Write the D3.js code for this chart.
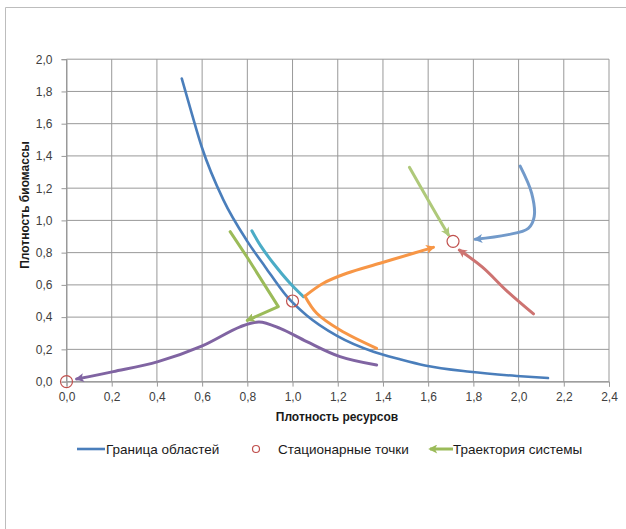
<!DOCTYPE html>
<html>
<head>
<meta charset="utf-8">
<script src="https://cdn.jsdelivr.net/npm/d3@7"></script>
<style>
  html, body { margin: 0; padding: 0; background: #fff; }
  svg text { font-family: "Liberation Sans", "DejaVu Sans", sans-serif; }
</style>
</head>
<body>
<svg id="chart" width="626" height="529"></svg>
<script>
// Axis ticks
const xTicks = [0, 0.2, 0.4, 0.6, 0.8, 1.0, 1.2, 1.4, 1.6, 1.8, 2.0, 2.2, 2.4];
const yTicks = [0, 0.2, 0.4, 0.6, 0.8, 1.0, 1.2, 1.4, 1.6, 1.8, 2.0];

// Boundary between regions
const boundaryX = [0.51, 0.554, 0.598, 0.694, 0.80, 0.88, 0.974, 1.063, 1.195, 1.358, 1.476, 1.586, 1.785, 1.992, 2.13];
const boundaryY = [1.88, 1.664, 1.457, 1.127, 0.87, 0.71, 0.53, 0.41, 0.285, 0.185, 0.138, 0.10, 0.061, 0.035, 0.022];

// Stationary points
const stationaryX = [0.0, 1.0, 1.71];
const stationaryY = [0.0, 0.5, 0.87];

// System trajectories (listed in the direction of motion)
const trajPurpleX = [1.372, 1.21, 1.063, 0.945, 0.852, 0.768, 0.598, 0.405, 0.207, 0.045];
const trajPurpleY = [0.103, 0.155, 0.248, 0.33, 0.37, 0.34, 0.22, 0.124, 0.062, 0.016];

const trajGreenX = [0.724, 0.80, 0.937, 0.80];
const trajGreenY = [0.93, 0.77, 0.465, 0.38];

const trajTealX = [0.82, 0.86, 0.915, 0.989, 1.048];
const trajTealY = [0.936, 0.84, 0.734, 0.61, 0.527];

const trajOrangeX = [1.372, 1.21, 1.107, 1.055, 1.136, 1.24, 1.387, 1.535, 1.623];
const trajOrangeY = [0.206, 0.32, 0.424, 0.53, 0.61, 0.672, 0.734, 0.796, 0.833];

const trajLightGreenX = [1.517, 1.608, 1.69];
const trajLightGreenY = [1.33, 1.106, 0.91];

const trajLightBlueX = [2.007, 2.058, 2.069, 2.043, 1.948, 1.808];
const trajLightBlueY = [1.337, 1.168, 1.023, 0.951, 0.91, 0.883];

const trajPinkX = [2.066, 1.95, 1.84, 1.738];
const trajPinkY = [0.42, 0.56, 0.71, 0.816];

const legendLabels = ["Граница областей", "Стационарные точки", "Траектория системы"];

const svg = d3.select("#chart");

// Outer frame (left and top edges)
svg.append("line").attr("x1", 5.5).attr("y1", 7.5).attr("x2", 5.5).attr("y2", 529).attr("stroke", "#bdbdbd");
svg.append("line").attr("x1", 5.5).attr("y1", 7.5).attr("x2", 626).attr("y2", 7.5).attr("stroke", "#bdbdbd");

const x = d3.scaleLinear().domain([0, 2.4]).range([66.5, 609]);
const y = d3.scaleLinear().domain([0, 2.0]).range([381.6, 59.2]);

const fmt = v => d3.format(".1f")(v).replace(".", ",");

// Grid
const grid = svg.append("g");
grid.selectAll(".gx").data(xTicks).join("line")
  .attr("x1", d => x(d)).attr("x2", d => x(d))
  .attr("y1", y(2.0)).attr("y2", y(0))
  .attr("stroke", "#999").attr("stroke-width", 1);
grid.selectAll(".gy").data(yTicks).join("line")
  .attr("x1", x(0)).attr("x2", x(2.4))
  .attr("y1", d => y(d)).attr("y2", d => y(d))
  .attr("stroke", "#999").attr("stroke-width", 1);

// Axes
const xAxis = d3.axisBottom(x).tickValues(xTicks).tickFormat(fmt).tickSize(5).tickPadding(6);
const yAxis = d3.axisLeft(y).tickValues(yTicks).tickFormat(fmt).tickSize(5).tickPadding(9);

const gx = svg.append("g").attr("transform", `translate(0,${y(0)})`).call(xAxis);
const gy = svg.append("g").attr("transform", `translate(${x(0)},0)`).call(yAxis);
[gx, gy].forEach(g => {
  g.select(".domain").attr("stroke", "#999");
  g.selectAll(".tick line").attr("stroke", "#999");
  g.selectAll(".tick text").attr("fill", "#404040").style("font-size", "12px");
});

// Axis titles
svg.append("text").attr("x", 337).attr("y", 421).attr("text-anchor", "middle")
  .style("font-size", "12px").style("font-weight", "bold").attr("fill", "#1a1a1a")
  .text("Плотность ресурсов");
svg.append("text").attr("transform", "translate(29,205) rotate(-90)")
  .attr("text-anchor", "middle")
  .style("font-size", "12px").style("font-weight", "bold").attr("fill", "#1a1a1a")
  .text("Плотность биомассы");

// Arrow markers, one per trajectory colour
const colors = {
  purple: "#8064A2", green: "#9BBB59", teal: "#4BACC6", orange: "#F79646",
  lightgreen: "#AFC97A", lightblue: "#729ACA", pink: "#CD7371"
};
const defs = svg.append("defs");
Object.entries(colors).forEach(([k, c]) => {
  defs.append("marker")
    .attr("id", "arr-" + k)
    .attr("viewBox", "0 0 10 10")
    .attr("refX", 8).attr("refY", 5)
    .attr("markerUnits", "userSpaceOnUse")
    .attr("markerWidth", 12).attr("markerHeight", 9)
    .attr("orient", "auto")
    .append("path").attr("d", "M0,0 L10,5 L0,10 L2.5,5 Z").attr("fill", c);
});

const smooth = d3.line().x(d => x(d[0])).y(d => y(d[1])).curve(d3.curveCatmullRom.alpha(0.5));
const straight = d3.line().x(d => x(d[0])).y(d => y(d[1]));
const zip = (xs, ys) => xs.map((v, i) => [v, ys[i]]);

// Boundary curve
svg.append("path").datum(zip(boundaryX, boundaryY))
  .attr("d", d3.line().x(d => x(d[0])).y(d => y(d[1])).curve(d3.curveMonotoneX))
  .attr("fill", "none")
  .attr("stroke", "#4A7EBB").attr("stroke-width", 2.6).attr("stroke-linecap", "round");

// Trajectories; "corner" splits a path where it turns sharply
const trajectories = [
  { key: "purple", xs: trajPurpleX, ys: trajPurpleY, arrow: true, gen: smooth },
  { key: "green", xs: trajGreenX, ys: trajGreenY, arrow: true, gen: straight },
  { key: "teal", xs: trajTealX, ys: trajTealY, arrow: false, gen: smooth },
  { key: "orange", xs: trajOrangeX, ys: trajOrangeY, arrow: true, gen: smooth, corner: 3 },
  { key: "lightgreen", xs: trajLightGreenX, ys: trajLightGreenY, arrow: true, gen: smooth },
  { key: "lightblue", xs: trajLightBlueX, ys: trajLightBlueY, arrow: true, gen: smooth },
  { key: "pink", xs: trajPinkX, ys: trajPinkY, arrow: true, gen: smooth }
];
trajectories.forEach(t => {
  const pts = zip(t.xs, t.ys);
  const parts = t.corner ? [pts.slice(0, t.corner + 1), pts.slice(t.corner)] : [pts];
  parts.forEach((p, i) => {
    svg.append("path").datum(p)
      .attr("d", t.gen).attr("fill", "none")
      .attr("stroke", colors[t.key]).attr("stroke-width", 3)
      .attr("stroke-linecap", "round").attr("stroke-linejoin", "round")
      .attr("marker-end", t.arrow && i === parts.length - 1 ? `url(#arr-${t.key})` : null);
  });
});

// Stationary points
svg.selectAll(".stat").data(zip(stationaryX, stationaryY)).join("circle")
  .attr("cx", d => x(d[0])).attr("cy", d => y(d[1])).attr("r", 6)
  .attr("fill", "none").attr("stroke", "#C0504D").attr("stroke-width", 1.2);

// Legend
const ly = 449;
const lg = svg.append("g");
lg.append("line").attr("x1", 77).attr("x2", 105).attr("y1", ly).attr("y2", ly)
  .attr("stroke", "#4A7EBB").attr("stroke-width", 2.6);
lg.append("text").attr("x", 106).attr("y", ly + 5).style("font-size", "13.5px").attr("fill", "#1a1a1a").text(legendLabels[0]);
lg.append("circle").attr("cx", 256).attr("cy", ly).attr("r", 3.5)
  .attr("fill", "none").attr("stroke", "#C0504D").attr("stroke-width", 1.2);
lg.append("text").attr("x", 278).attr("y", ly + 5).style("font-size", "13.5px").attr("fill", "#1a1a1a").text(legendLabels[1]);
lg.append("line").attr("x1", 453).attr("x2", 430).attr("y1", ly).attr("y2", ly)
  .attr("stroke", colors.green).attr("stroke-width", 3).attr("marker-end", "url(#arr-green)");
lg.append("text").attr("x", 453).attr("y", ly + 5).style("font-size", "13.5px").attr("fill", "#1a1a1a").text(legendLabels[2]);
</script>
</body>
</html>
